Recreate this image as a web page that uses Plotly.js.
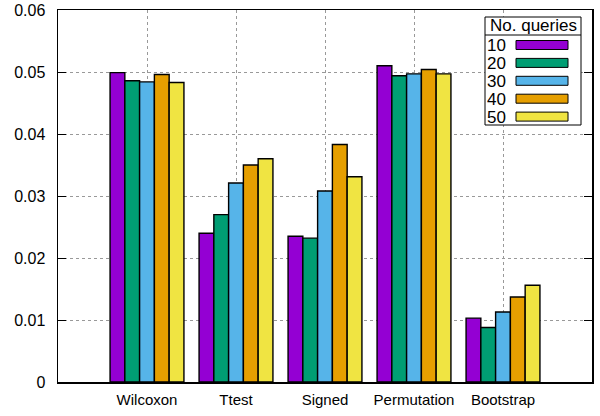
<!DOCTYPE html>
<html>
<head>
<meta charset="utf-8">
<script src="https://cdn.plot.ly/plotly-3.0.1.min.js"></script>
<style>html,body{margin:0;padding:0;background:#fff}#chart{width:600px;height:416px}</style>
</head>
<body>
<div id="chart"></div>
<script>
const categories = ["Wilcoxon", "Ttest", "Signed", "Permutation", "Bootstrap"];
const seriesNames = ["10", "20", "30", "40", "50"];
const q10 = [0.0499, 0.0240, 0.0235, 0.0510, 0.0103];
const q20 = [0.0486, 0.0270, 0.0232, 0.0494, 0.0088];
const q30 = [0.0484, 0.0321, 0.0308, 0.0497, 0.0113];
const q40 = [0.0496, 0.0350, 0.0383, 0.0504, 0.0137];
const q50 = [0.0483, 0.0360, 0.0331, 0.0497, 0.0156];
const seriesValues = [q10, q20, q30, q40, q50];
const colors = ["#9400D3", "#009E73", "#56B4E9", "#E69F00", "#F0E442"];
const yTicks = [0, 0.01, 0.02, 0.03, 0.04, 0.05, 0.06];
const yTickText = ["0", "0.01", "0.02", "0.03", "0.04", "0.05", "0.06"];
const legendTitle = "No. queries";

const W = 600, H = 416;
const M = {l: 58, r: 8, t: 10, b: 34};
const PW = W - M.l - M.r, PH = H - M.t - M.b;
const px = x => (x - M.l) / PW;
const py = y => (H - M.b - y) / PH;

const FONT = "Liberation Sans, Arial, Helvetica, sans-serif";

const traces = seriesNames.map((n, i) => ({
  type: "bar",
  name: n,
  x: categories,
  y: seriesValues[i],
  marker: {color: colors[i], line: {color: "#000", width: 1.4}},
  showlegend: false,
  hoverinfo: "x+y+name"
}));

// gnuplot-style legend box (label left, swatch right)
const shapes = [];
const annotations = [];
const box = {x0: 485, x1: 581, y0: 17, y1: 125, div: 35};
shapes.push({type: "rect", xref: "paper", yref: "paper", x0: px(box.x0), x1: px(box.x1), y0: py(box.y1), y1: py(box.y0),
  fillcolor: "#fff", line: {color: "#000", width: 1}, layer: "above"});
shapes.push({type: "line", xref: "paper", yref: "paper", x0: px(box.x0), x1: px(box.x1), y0: py(box.div), y1: py(box.div),
  line: {color: "#000", width: 1}, layer: "above"});
annotations.push({xref: "paper", yref: "paper", x: px((box.x0 + box.x1) / 2), y: py(26), text: legendTitle, showarrow: false,
  xanchor: "center", yanchor: "middle", borderpad: 0, height: 17, font: {family: FONT, size: 17, color: "#000"}});
seriesNames.forEach((n, i) => {
  const cy = 45 + i * 17.9;
  annotations.push({xref: "paper", yref: "paper", x: px(486), y: py(cy), text: n, showarrow: false,
    xanchor: "left", yanchor: "middle", borderpad: 0, height: 16, font: {family: FONT, size: 17, color: "#000"}});
  shapes.push({type: "rect", xref: "paper", yref: "paper", x0: px(516), x1: px(568), y0: py(cy + 4.5), y1: py(cy - 4.5),
    fillcolor: colors[i], line: {color: "#000", width: 1}, layer: "above"});
});

const layout = {
  width: W, height: H,
  margin: M,
  paper_bgcolor: "#fff", plot_bgcolor: "#fff",
  barmode: "group", bargap: 0.17, bargroupgap: 0,
  font: {family: FONT, size: 15, color: "#000"},
  showlegend: false,
  xaxis: {
    type: "category", range: [-1, 5], showline: true, mirror: true, linecolor: "#000", linewidth: 1.5,
    showgrid: true, gridcolor: "#999", griddash: "dot", gridwidth: 1,
    ticks: "", tickfont: {family: FONT, size: 15}, zeroline: false, ticklabelstandoff: 3
  },
  yaxis: {
    range: [0, 0.06], tickvals: yTicks, ticktext: yTickText, showline: true, mirror: "ticks", linecolor: "#000", linewidth: 1.5,
    ticks: "inside", ticklen: 8, tickcolor: "#000", tickwidth: 1,
    showgrid: true, gridcolor: "#999", griddash: "dot", gridwidth: 1, zeroline: false,
    tickfont: {family: FONT, size: 16}, ticklabelstandoff: 8
  },
  shapes: shapes,
  annotations: annotations
};

Plotly.newPlot("chart", traces, layout, {displayModeBar: false, staticPlot: true});
</script>
</body>
</html>
